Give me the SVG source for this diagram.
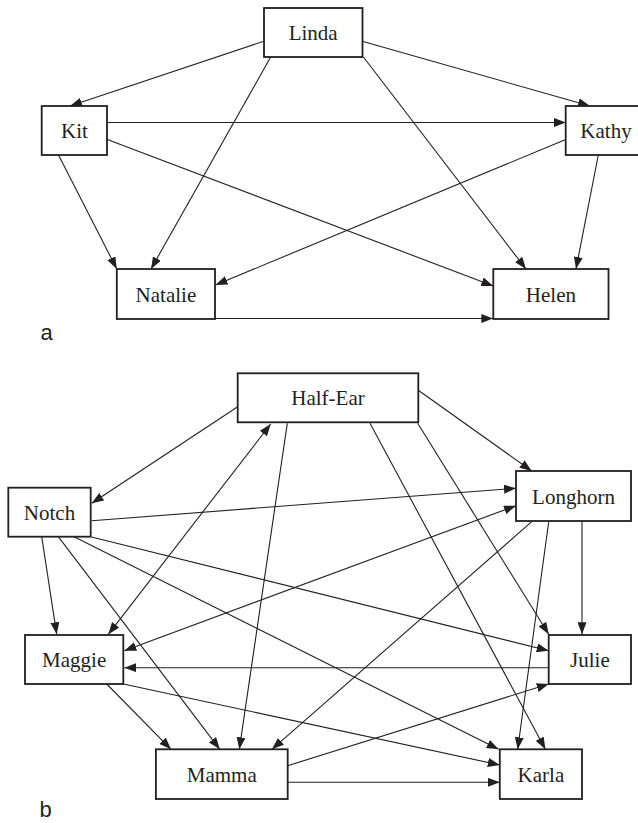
<svg xmlns="http://www.w3.org/2000/svg" width="638" height="823" viewBox="0 0 638 823">
<defs>
<marker id="ah" markerUnits="userSpaceOnUse" markerWidth="12" markerHeight="9" refX="12" refY="4.5" orient="auto-start-reverse">
<path d="M0,0 L12,4.5 L0,9 z" fill="#231f20"/>
</marker>
<style>
.box{fill:#fff;stroke:#231f20;stroke-width:1.8}
.lbl{font-family:"Liberation Serif","Times New Roman",serif;font-size:21px;fill:#231f20;text-anchor:middle}
.tag{font-family:"Liberation Sans",Arial,sans-serif;font-size:22px;fill:#231f20}
.e{stroke:#231f20;stroke-width:1.1;fill:none;marker-end:url(#ah)}
.b2{marker-start:url(#ah)}
</style>
</defs>
<rect width="638" height="823" fill="#fff"/>
<g id="connectors">
<line class="e" x1="263.7" y1="41.3" x2="70" y2="106"/>
<line class="e" x1="362.2" y1="41.3" x2="590" y2="106"/>
<line class="e" x1="270.7" y1="57" x2="151" y2="269"/>
<line class="e" x1="363.4" y1="57" x2="526" y2="269"/>
<line class="e" x1="107" y1="122.5" x2="565.7" y2="122.5"/>
<line class="e" x1="107.3" y1="139.5" x2="493.3" y2="286"/>
<line class="e" x1="58.5" y1="155" x2="116.8" y2="269"/>
<line class="e" x1="565.7" y1="139.5" x2="215.5" y2="285"/>
<line class="e" x1="598.3" y1="155" x2="576" y2="269"/>
<line class="e" x1="215" y1="318.5" x2="493.3" y2="318.5"/>
<line class="e" x1="237.7" y1="406.7" x2="91.7" y2="503.3"/>
<line class="e b2" x1="270.7" y1="424" x2="108.3" y2="634.3"/>
<line class="e" x1="287.3" y1="423.3" x2="239.3" y2="749.3"/>
<line class="e" x1="370" y1="423.3" x2="545.4" y2="749.3"/>
<line class="e" x1="417.7" y1="423.3" x2="548.7" y2="634.3"/>
<line class="e" x1="419" y1="390.7" x2="531.7" y2="471"/>
<line class="e" x1="91.7" y1="520.7" x2="516" y2="488.3"/>
<line class="e b2" x1="516" y1="505.7" x2="124.3" y2="650.7"/>
<line class="e" x1="531.7" y1="521.7" x2="271.9" y2="749.3"/>
<line class="e" x1="548.7" y1="521.7" x2="517.7" y2="749.3"/>
<line class="e" x1="582" y1="521.7" x2="582" y2="634.3"/>
<line class="e" x1="41.7" y1="536.7" x2="56.7" y2="634.3"/>
<line class="e" x1="58.3" y1="536.7" x2="219.8" y2="749.3"/>
<line class="e" x1="74.5" y1="537" x2="498.6" y2="749.3"/>
<line class="e" x1="91.5" y1="537" x2="548.7" y2="650.7"/>
<line class="e" x1="548.7" y1="667.7" x2="124.3" y2="667.7"/>
<line class="e" x1="106.7" y1="684" x2="171" y2="749.3"/>
<line class="e" x1="123.3" y1="684" x2="499.8" y2="765"/>
<line class="e" x1="287.7" y1="765.7" x2="548.7" y2="684"/>
<line class="e" x1="287.7" y1="782.3" x2="499.8" y2="782.3"/>
</g>
<g id="Linda"><rect class="box" x="264" y="8" width="98.5" height="49"/><text class="lbl" x="313.2" y="40">Linda</text></g>
<g id="Kit"><rect class="box" x="41.7" y="106" width="65.3" height="49"/><text class="lbl" x="74.4" y="138">Kit</text></g>
<g id="Kathy"><rect class="box" x="565.7" y="106" width="80.6" height="49"/><text class="lbl" x="606" y="138">Kathy</text></g>
<g id="Natalie"><rect class="box" x="116.8" y="269" width="98.2" height="50"/><text class="lbl" x="165.9" y="301.5">Natalie</text></g>
<g id="Helen"><rect class="box" x="493.3" y="269" width="115.2" height="50"/><text class="lbl" x="550.9" y="301.5">Helen</text></g>
<text class="tag" x="40.5" y="340">a</text>
<g id="Half-Ear"><rect class="box" x="237.7" y="373.3" width="180.6" height="49"/><text class="lbl" x="328" y="405">Half-Ear</text></g>
<g id="Notch"><rect class="box" x="8.3" y="487.7" width="82.4" height="49"/><text class="lbl" x="49.5" y="519.7">Notch</text></g>
<g id="Longhorn"><rect class="box" x="516" y="471" width="115" height="50"/><text class="lbl" x="573.5" y="503.5">Longhorn</text></g>
<g id="Maggie"><rect class="box" x="25" y="635" width="98.3" height="49"/><text class="lbl" x="74.2" y="667">Maggie</text></g>
<g id="Julie"><rect class="box" x="548.7" y="635" width="82.3" height="49"/><text class="lbl" x="589.9" y="667">Julie</text></g>
<g id="Mamma"><rect class="box" x="155.9" y="749.3" width="131.8" height="49.7"/><text class="lbl" x="221.8" y="781.7">Mamma</text></g>
<g id="Karla"><rect class="box" x="499.8" y="749.3" width="82.2" height="49.7"/><text class="lbl" x="540.9" y="781.7">Karla</text></g>
<text class="tag" x="39.5" y="817">b</text>
</svg>
